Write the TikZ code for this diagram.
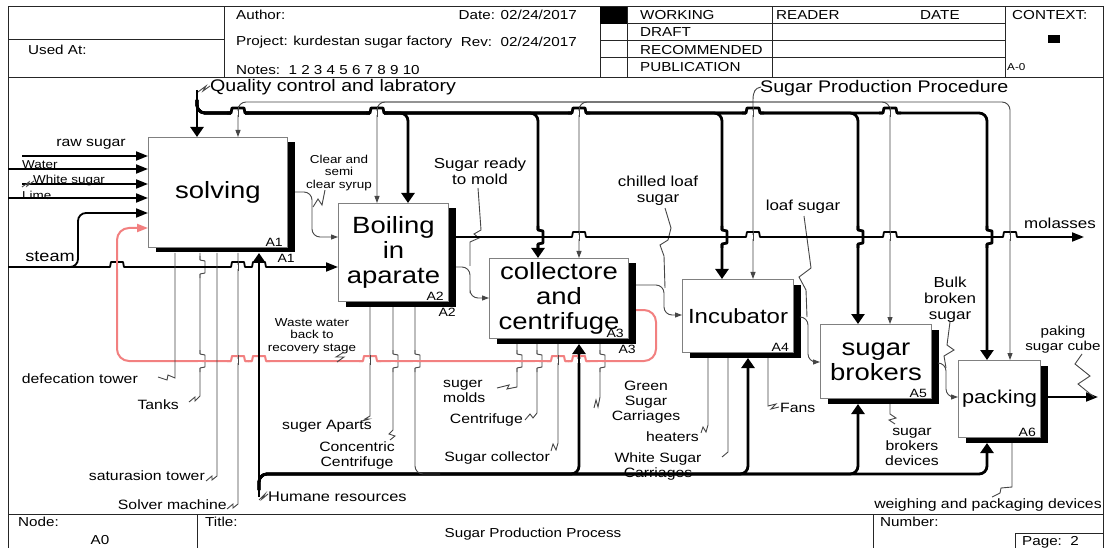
\documentclass[tikz,border=0pt]{standalone}
\usepackage{fontspec}
\setmainfont{Liberation Sans}[FakeStretch=1.17]
\usetikzlibrary{arrows.meta,shadows}
\definecolor{pinkc}{RGB}{242,128,128}
\definecolor{wire}{RGB}{70,70,70}
% a horizontal line hopping over a vertical one: x, y, line style, crossing style
\newcommand\bridgeH[4]{%
  \fill[white] ({#1-7},{#2-2}) rectangle ({#1+7},{#2+2});
  \draw[#3,line join=round] ({#1-11},#2) -- ({#1-7},#2) -- ({#1-6},{#2-5}) -- ({#1+6},{#2-5}) -- ({#1+7},#2) -- ({#1+11},#2);
  \draw[#4] (#1,{#2-6}) -- (#1,{#2+4});}
% a vertical line stepping round a horizontal one: x, y, line style, crossing style
\newcommand\bridgeV[4]{%
  \fill[white] ({#1-2},{#2-7}) rectangle ({#1+2},{#2+7});
  \draw[#3,line join=round] (#1,{#2-11}) -- (#1,{#2-7}) -- ({#1+5},{#2-6}) -- ({#1+5},{#2+6}) -- (#1,{#2+7}) -- (#1,{#2+11});
  \draw[#4] ({#1-4},#2) -- ({#1+9},#2);}
\begin{document}
\begin{tikzpicture}[x=1pt,y=-1pt,
  frame/.style={draw=black!85,line width=1pt},
  box/.style={draw=black!50,line width=1pt,fill=white,anchor=north west,inner sep=0pt,align=center,
    font=\fontsize{23.5}{25}\selectfont,
    drop shadow={shadow xshift=7pt,shadow yshift=-5pt,fill=black,opacity=1}},
  thk/.style={line width=2.8pt,draw=black},
  med/.style={line width=1.8pt,draw=black},
  thn/.style={line width=0.9pt,draw=wire},
  pnk/.style={line width=2pt,draw=pinkc},
  ta/.style={-{Triangle[length=10pt,width=13pt]}},
  ma/.style={-{Triangle[length=12pt,width=9pt]}},
  na/.style={-{Triangle[length=7pt,width=5pt]}},
  pa/.style={-{Triangle[length=11pt,width=8pt]}},
  hdr/.style={font=\fontsize{13}{15}\selectfont,inner sep=0pt},
  lab/.style={font=\fontsize{13.5}{15}\selectfont,inner sep=0pt,align=center},
  labm/.style={font=\fontsize{14.5}{16}\selectfont,inner sep=0pt,align=center},
  labs/.style={font=\fontsize{11.5}{12.5}\selectfont,inner sep=0pt,align=center},
  ttl/.style={font=\fontsize{16.8}{18}\selectfont,inner sep=0pt},
  tag/.style={font=\fontsize{12}{13}\selectfont,inner sep=0pt},
]
\path[fill=white,use as bounding box] (0,0) rectangle (1106,548);

% ---------- sheet frame, header and footer ----------
\draw[frame] (8,548) -- (8,7) -- (1103,7) -- (1103,548);
\draw[frame] (8,78) -- (1103,78);
\draw[frame] (8,40) -- (224,40);
\draw[frame] (224,7) -- (224,78);
\foreach \x in {600,627,772,1005} \draw[frame] (\x,7) -- (\x,78);
\foreach \y in {24,41,58} \draw[frame] (600,\y) -- (1005,\y);
\fill (600,7) rectangle (627,24);
\fill (1048,35) rectangle (1060,43);
\draw[frame] (8,514) -- (1103,514);
\draw[frame] (197,514) -- (197,548);
\draw[frame] (873,514) -- (873,548);
\draw[frame] (1015,548) -- (1015,533) -- (1103,533);

\node[hdr,anchor=west] (usedat) at (28,50) {Used At:};
\node[hdr,anchor=west] (author) at (236,15) {Author:};
\node[hdr,anchor=east] (date) at (577,15) {Date: 02/24/2017};
\node[hdr,anchor=west] (project) at (236,42) {Project: kurdestan sugar factory};
\node[hdr,anchor=east] (rev) at (577,42) {Rev:\ \ 02/24/2017};
\node[hdr,anchor=west] (notes) at (236,70) {Notes:\ \ 1 2 3 4 5 6 7 8 9 10};
\node[hdr,anchor=west] (working) at (640,15) {WORKING};
\node[hdr,anchor=west] (draft) at (640,32) {DRAFT};
\node[hdr,anchor=west] (recom) at (640,50) {RECOMMENDED};
\node[hdr,anchor=west] (publ) at (640,67) {PUBLICATION};
\node[hdr,anchor=west] (reader) at (776,15) {READER};
\node[hdr,anchor=west] (rdate) at (920,15) {DATE};
\node[hdr,anchor=west] (context) at (1012,15) {CONTEXT:};
\node[font=\fontsize{10}{12}\selectfont,inner sep=0pt,anchor=west] (actx) at (1007,67) {A-0};
\node[hdr,anchor=west] (nodelbl) at (18,522) {Node:};
\node[hdr] (nodeno) at (100,540) {A0};
\node[hdr,anchor=west] (titlelbl) at (205,522) {Title:};
\node[hdr] (title) at (533,534) {Sugar Production Process};
\node[hdr,anchor=west] (numlbl) at (880,522) {Number:};
\node[hdr,anchor=west] (page) at (1022,542) {Page:\ \ 2};

% ---------- activity boxes ----------
\node[box,minimum width=139pt,minimum height=110pt] (A1) at (148,137) {solving};
\node[box,minimum width=110pt,minimum height=98pt] (A2) at (338,203) {Boiling\\in\\aparate};
\node[box,minimum width=139pt,minimum height=80pt] (A3) at (489,258) {collectore\\and\\centrifuge};
\node[box,minimum width=111pt,minimum height=73pt,font=\fontsize{20.5}{22}\selectfont] (A4) at (682,279) {Incubator};
\node[box,minimum width=111pt,minimum height=74pt] (A5) at (820,324) {sugar\\brokers};
\node[box,minimum width=82pt,minimum height=77pt,font=\fontsize{18.6}{20}\selectfont] (A6) at (958,360) {packing};

\foreach \n in {A1,A2,A3,A4,A5,A6}{
  \coordinate (\n-b) at ([yshift=-5pt]\n.south);
  \coordinate (\n-r) at ([xshift=7pt]\n.east);
  \coordinate (\n-s) at ([xshift=7pt,yshift=-5pt]\n.south east);
  \node[tag,anchor=south east] (\n-in) at ([xshift=-5pt,yshift=1.5pt]\n.south east) {\n};
}
\node[tag,anchor=north east] (A1-out) at ([yshift=-1pt]A1-s) {A1};
\node[tag,anchor=north east] (A2-out) at ([yshift=-1pt]A2-s) {A2};
\node[tag,anchor=north east] (A3-out) at ([yshift=-1pt]A3-s) {A3};

% ---------- controls ----------
\node[ttl,anchor=west] (qc) at (210,87) {Quality control and labratory};
\node[ttl,anchor=west] (spp) at (760,88) {Sugar Production Procedure};
\draw[thn] (198,92) -- (206,86) -- (203,91) -- (210,86);
% thin procedure tree
\draw[thn,na] (761,87) .. controls (755,88) and (753,92) .. (753,100) -- (753,0 |- A4.north);
\draw[thn,na,rounded corners=8] (753,102) -| (238,0 |- A1.north);
\draw[thn,na,rounded corners=8] (753,102) -| (377,0 |- A2.north);
\draw[thn,na,rounded corners=8] (753,102) -| (579,0 |- A3.north);
\draw[thn,na,rounded corners=8] (753,102) -| (890,0 |- A5.north);
\draw[thn,na,rounded corners=8] (753,102) -| (1010,0 |- A6.north);
% thick quality-control tree
\draw[thk,ta] (197,90) -- (197,0 |- A1.north);
\draw[thk,ta,rounded corners=8] (197,100) |- (300,113) -| (408,0 |- A2.north);
\draw[thk,ta,rounded corners=8] (197,100) |- (300,113) -| (538,0 |- A3.north);
\draw[thk,ta,rounded corners=8] (197,100) |- (300,113) -| (722,0 |- A4.north);
\draw[thk,ta,rounded corners=8] (197,100) |- (300,113) -| (858,0 |- A5.north);
\draw[thk,ta,rounded corners=8] (197,100) |- (300,113) -| (987,0 |- A6.north);

% ---------- inputs to A1 ----------
\draw[med,ma] (22,156) -- (A1.west |- 0,156);
\draw[med,ma] (8,169) -- (A1.west |- 0,169);
\draw[med,ma] (22,184) -- (A1.west |- 0,184);
\draw[thn] (22,187) -- (29,182) -- (27,186) -- (34,181);
\draw[med,ma] (8,198) -- (A1.west |- 0,198);
\draw[med,ma] (8,267) -- (A2.west |- 0,267);
\draw[med,ma,rounded corners=8] (64,267) -| (78,240) |- (A1.west |- 0,213);
\node[lab] (rawsugar) at (91,144) {raw sugar};
\node[labs,anchor=west] (water) at (22,165) {Water};
\node[labs,anchor=west] (wsugar) at (33,181) {White sugar};
\node[labs,anchor=west] (lime) at (22,195) {Lime};
\node[font=\fontsize{15.5}{17}\selectfont,inner sep=0pt] (steam) at (50,257) {steam};

% ---------- recycled waste water ----------
\draw[pnk,pa,rounded corners=12] (A3-r |- 0,310) -| (656,361) -| (117,228) -- (A1.west |- 0,228);
\node[labs] (waste) at (312,336) {Waste water\\back to\\recovery stage};
\draw[thn] (344,352) -- (336,357) -- (344,357) -- (337,362);

% ---------- outputs between boxes ----------
\draw[thn,na,rounded corners=8] (A1-r |- 0,192) -| (312,215) |- (A2.west |- 0,237);
\node[labs] (syrup) at (339,173) {Clear and\\semi\\clear syrup};
\draw[thn] (325,190) -- (322,205) -- (318,199) -- (313,207);

\draw[thn,na,rounded corners=8] (A2-r |- 0,267) -| (470,285) |- (A3.west |- 0,298);
\node[labm] (ready) at (480,171) {Sugar ready\\to mold};
\draw[thn] (478,188) -- (481,230) -- (474,234) -- (479,238) -- (470,242) -- (470,266);

\draw[thn,na,rounded corners=8] (A3-r |- 0,285) -| (664,300) |- (A4.west |- 0,315);
\node[labm] (chilled) at (658,191) {chilled loaf\\sugar};
\draw[thn] (665,208) -- (671,228) -- (668,240) -- (660,245) -- (664,256) -- (665,288);

\draw[thn,na,rounded corners=8] (A4-r |- 0,317) -| (808,340) |- (A5.west |- 0,362);
\node[labm] (loaf) at (803,207) {loaf sugar};
\draw[thn] (804,216) -- (811,268) -- (799,277) -- (806,290) -- (807,317);

\draw[thn,na,rounded corners=8] (A5-r |- 0,363) -| (946,380) |- (A6.west |- 0,397);
\node[labm] (bulk) at (950,300) {Bulk\\broken\\sugar};
\draw[thn] (950,322) -- (947,345) -- (954,350) -- (944,356) -- (946,368);

\draw[med,ma] (A6-r |- 0,397) -- (1098,397);
\node[font=\fontsize{13}{15}\selectfont,inner sep=0pt,align=center] (cube) at (1063,340) {paking\\sugar cube};
\draw[thn] (1082,354) -- (1075,364) -- (1090,376) -- (1078,384) -- (1094,397);

\draw[med,ma] (A2-r |- 0,237) -- (1084,237);
\node[labm] (molasses) at (1060,223) {molasses};

% ---------- mechanisms ----------
\draw[thk,ta] (259,497) -- (259,0 |- A1-b);
\draw[thk,ta,rounded corners=8] (259,490) |- (400,474) -| (579,0 |- A3-b);
\draw[thk,ta,rounded corners=8] (259,490) |- (400,474) -| (748,0 |- A4-b);
\draw[thk,ta,rounded corners=8] (259,490) |- (400,474) -| (858,0 |- A5-b);
\draw[thk,ta,rounded corners=8] (259,490) |- (400,474) -| (987,0 |- A6-b);
\draw[thn,rounded corners=8] (415,0 |- A2-b) |- (440,474);
\draw[thn] (259,500) -- (265,494) -- (262,499) -- (268,494);
\node[lab,anchor=west,font=\fontsize{14}{15}\selectfont] (humane) at (268,497) {Humane resources};

\draw[thn] (175,0 |- A1-b) -- (175,378) -- (168,375) -- (167,380) -- (158,377);
\node[lab,anchor=east] (defec) at (138,379) {defecation tower};
\draw[thn] (200,0 |- A1-b) -- (200,396) -- (195,401) -- (195,397) -- (189,402);
\node[lab,anchor=east] (tanks) at (179,405) {Tanks};
\draw[thn] (217,0 |- A1-b) -- (217,476) -- (212,480) -- (212,476) -- (206,481);
\node[lab,anchor=east] (satur) at (205,476) {saturasion tower};
\draw[thn] (238,0 |- A1-b) -- (238,504) -- (233,508) -- (233,504) -- (227,509);
\node[lab,anchor=east] (solver) at (227,505) {Solver machine};

\draw[thn] (370,0 |- A2-b) -- (370,416) -- (365,419) -- (369,419) -- (362,421);
\node[lab] (aparts) at (327,426) {suger Aparts};
\draw[thn] (393,0 |- A2-b) -- (393,430) -- (389,434) -- (395,436) -- (390,440);
\node[lab] (concentric) at (357,456) {Concentric\\Centrifuge};

\draw[thn] (517,0 |- A3-b) -- (517,387) -- (507,389) -- (509,385) -- (497,388);
\node[lab,anchor=west,align=left] (molds) at (443,391) {suger\\molds};
\draw[thn] (537,0 |- A3-b) -- (537,413) -- (533,418) -- (530,414) -- (525,420);
\node[lab,anchor=east] (centri) at (523,420) {Centrifuge};
\draw[thn] (558,0 |- A3-b) -- (558,443) -- (556,450) -- (553,444) -- (551,451);
\node[lab,anchor=east] (collector) at (550,458) {Sugar collector};
\draw[thn] (600,0 |- A3-b) -- (600,397) -- (598,407) -- (596,400) -- (594,408);
\node[lab] (green) at (646,402) {Green\\Sugar\\Carriages};

\draw[thn] (708,0 |- A4-b) -- (708,425) -- (706,432) -- (703,427) -- (701,433);
\node[lab,anchor=east] (heaters) at (699,437) {heaters};
\draw[thn] (728,0 |- A4-b) -- (728,452) -- (722,457);
\node[lab] (white) at (658,467) {White Sugar\\Carriages};
\draw[thn] (768,0 |- A4-b) -- (768,406) -- (776,404) -- (771,409) -- (779,407);
\node[lab,anchor=west] (fans) at (780,408) {Fans};

\draw[thn] (890,0 |- A5-b) -- (890,414) -- (896,418) -- (889,420) -- (895,424);
\node[lab] (brokdev) at (912,447) {sugar\\brokers\\devices};

\draw[thn] (1012,0 |- A6-b) -- (1012,487) -- (1001,488) -- (1000,493) -- (992,497);
\node[lab] (weigh) at (988,505) {weighing and packaging devices};

% ---------- crossings ----------
\foreach \x in {238,377,579,753,890} {\bridgeH{\x}{113}{thk}{thn}}
\foreach \x in {579,753,890,1010} {\bridgeH{\x}{237}{med}{thn}}
\foreach \x in {538,722,858,987} {\bridgeV{\x}{237}{thk}{med}}
\bridgeH{117}{267}{med}{pnk}
\bridgeH{238}{267}{med}{thn}
\bridgeH{259}{267}{med}{thk}
\bridgeV{200}{267}{thn}{med}
\foreach \x in {238,370,558} {\bridgeH{\x}{361}{pnk}{thn}}
\foreach \x in {259,579} {\bridgeH{\x}{361}{pnk}{thk}}
\foreach \x in {200,393,415,517,537,600} {\bridgeV{\x}{361}{thn}{pnk}}
\end{tikzpicture}
\end{document}
